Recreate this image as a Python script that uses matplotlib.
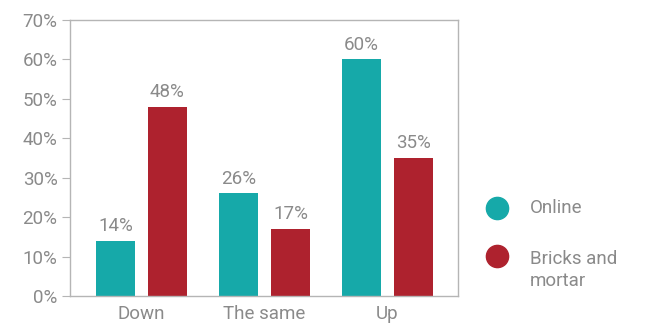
import matplotlib
matplotlib.use('Agg')
import matplotlib.pyplot as plt
import numpy as np
from matplotlib.lines import Line2D

# Chart data
categories = ['Down', 'The same', 'Up']
online = [14, 26, 60]
bricks = [48, 17, 35]
series_names = ['Online', 'Bricks and\nmortar']
yticks = [0, 10, 20, 30, 40, 50, 60, 70]

teal = '#16A9A9'
red = '#AE222E'
grey = '#8A8A8A'
spine = '#B5B5B5'
fs = 13.5

plt.rcParams['font.family'] = ['Roboto', 'DejaVu Sans']

fig = plt.figure(figsize=(6.46, 3.26), dpi=100)
ax = fig.add_axes([70/646, 30/326, 388/646, 276/326])

x = np.arange(len(categories))
w = 0.317
off = 0.2114
b1 = ax.bar(x - off, online, w, color=teal)
b2 = ax.bar(x + off, bricks, w, color=red)

for bars, vals in ((b1, online), (b2, bricks)):
  for b, v in zip(bars, vals):
    ax.text(b.get_x() + b.get_width()/2, v + 1.5, '%d%%' % v,
            ha='center', va='bottom', color=grey, fontsize=fs)

ax.set_xlim(-0.581, 2.573)
ax.set_ylim(0, 70)
ax.set_yticks(yticks)
ax.set_yticklabels(['%d%%' % t for t in yticks])
ax.set_xticks(x)
ax.set_xticklabels(categories)
ax.tick_params(axis='y', colors=spine, labelcolor=grey, labelsize=fs, length=6, pad=3)
ax.tick_params(axis='x', length=0, labelcolor=grey, labelsize=fs, pad=6.5)
for s in ax.spines.values():
  s.set_color(spine)
  s.set_linewidth(1)

# Legend drawn by hand
for (cy, ty), col, name in zip([(208, 208), (256, 270)], [teal, red], series_names):
  fig.add_artist(Line2D([497/646], [1 - cy/326], marker='o', markersize=16,
                        color=col, transform=fig.transFigure))
  fig.text(530/646, 1 - ty/326, name, color=grey, fontsize=fs,
           va='center', ha='left', linespacing=1.35)

fig.savefig('out.png', dpi=100)
